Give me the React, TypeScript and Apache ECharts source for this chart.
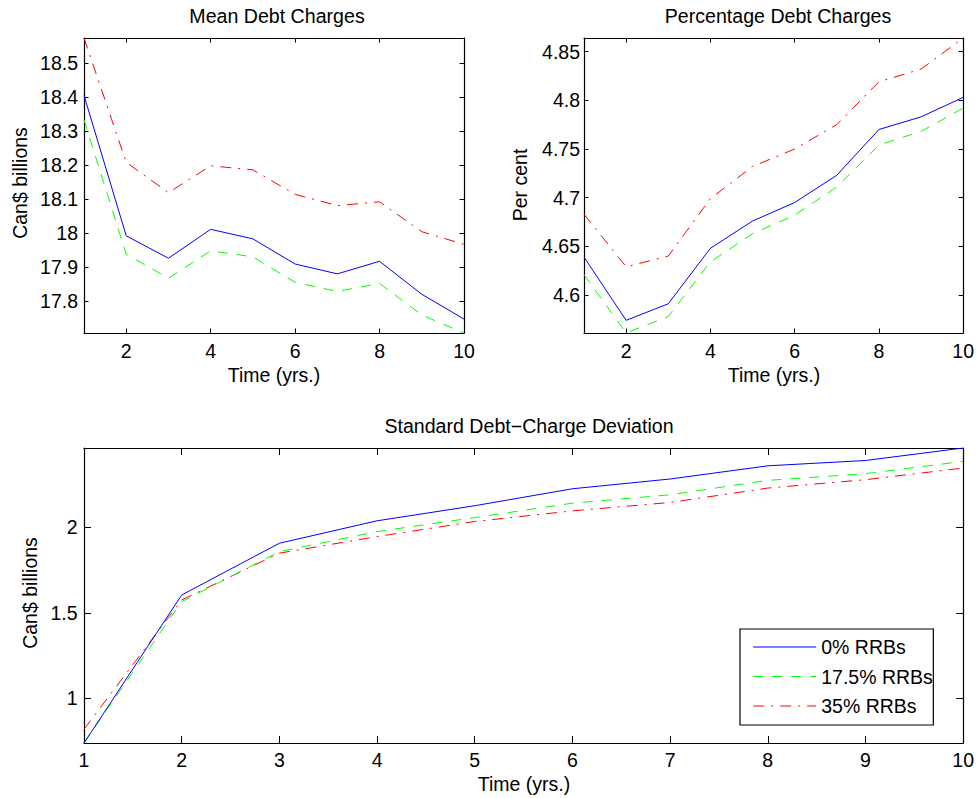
import React, { useEffect, useRef } from "react";
import * as echarts from "echarts";

const years = [1, 2, 3, 4, 5, 6, 7, 8, 9, 10];

const seriesNames = ["0% RRBs", "17.5% RRBs", "35% RRBs"];

const meanBlue = [18.405, 17.992, 17.926, 18.011, 17.983, 17.909, 17.88, 17.917, 17.82, 17.747];
const meanGreen = [18.333, 17.938, 17.867, 17.948, 17.93, 17.855, 17.828, 17.852, 17.759, 17.706];
const meanRed = [18.574, 18.208, 18.119, 18.198, 18.186, 18.114, 18.081, 18.092, 18.004, 17.967];

const pctBlue = [4.639, 4.574, 4.591, 4.648, 4.676, 4.695, 4.723, 4.77, 4.783, 4.803];
const pctGreen = [4.621, 4.561, 4.578, 4.634, 4.663, 4.682, 4.711, 4.754, 4.768, 4.792];
const pctRed = [4.683, 4.629, 4.64, 4.699, 4.732, 4.75, 4.775, 4.819, 4.832, 4.864];

const stdBlue = [0.74, 1.604, 1.906, 2.037, 2.125, 2.224, 2.281, 2.358, 2.389, 2.462];
const stdGreen = [0.741, 1.565, 1.857, 1.974, 2.056, 2.14, 2.189, 2.273, 2.312, 2.384];
const stdRed = [0.82, 1.575, 1.848, 1.945, 2.033, 2.095, 2.144, 2.228, 2.277, 2.345];

const xTicksTop = [2, 4, 6, 8, 10];
const xTicksBottom = [1, 2, 3, 4, 5, 6, 7, 8, 9, 10];
const yTicksMean = [17.8, 17.9, 18, 18.1, 18.2, 18.3, 18.4, 18.5];
const yTicksPct = [4.6, 4.65, 4.7, 4.75, 4.8, 4.85];
const yTicksStd = [1, 1.5, 2];

const titles = ["Mean Debt Charges", "Percentage Debt Charges", "Standard Debt\u2212Charge Deviation"];
const xAxisTitle = "Time (yrs.)";
const yAxisTitles = ["Can$ billions", "Per cent", "Can$ billions"];

const FONT = '"Liberation Sans", Arial, Helvetica, sans-serif';
const FS = 19.5;
const COLORS = ["#0000ff", "#00ff00", "#ff0000"];
const DASHES: any[] = ["solid", [10, 9], [11, 7, 2, 7]];

const fmt = (v: number) => String(parseFloat(Number(v).toFixed(3)));

function mkX(grid: number, ticks: number[], tickLen: number, margin: number, pos: string, labels: boolean) {
  return {
    type: "value",
    gridIndex: grid,
    min: 1,
    max: 10,
    position: pos,
    axisLine: { show: true, onZero: false, lineStyle: { color: "#000", width: 1.2 } },
    axisTick: { show: true, inside: true, length: tickLen, customValues: ticks, lineStyle: { color: "#000", width: 1 } },
    axisLabel: {
      show: labels,
      customValues: ticks,
      color: "#000",
      fontSize: FS,
      fontFamily: FONT,
      margin,
      formatter: (v: number) => fmt(v),
    },
    splitLine: { show: false },
  };
}

function mkY(grid: number, min: number, max: number, ticks: number[], tickLen: number, margin: number, pos: string, labels: boolean) {
  return {
    type: "value",
    gridIndex: grid,
    min,
    max,
    position: pos,
    axisLine: { show: true, onZero: false, lineStyle: { color: "#000", width: 1.2 } },
    axisTick: { show: true, inside: true, length: tickLen, customValues: ticks, lineStyle: { color: "#000", width: 1 } },
    axisLabel: {
      show: labels,
      customValues: ticks,
      color: "#000",
      fontSize: FS,
      fontFamily: FONT,
      margin,
      formatter: (v: number) => fmt(v),
    },
    splitLine: { show: false },
  };
}

function mkSeries(grid: number, arrays: number[][]) {
  return arrays.map((arr, k) => ({
    type: "line",
    name: seriesNames[k],
    xAxisIndex: grid * 2,
    yAxisIndex: grid * 2,
    data: years.map((x, i) => [x, arr[i]]),
    symbol: "none",
    showSymbol: false,
    color: COLORS[k],
    lineStyle: { color: COLORS[k], width: 1, type: DASHES[k] },
    z: 5 - k,
  }));
}

export default function App() {
  const ref = useRef<HTMLDivElement>(null);
  useEffect(() => {
    document.body.style.margin = "0";
    if (!ref.current) return;
    const chart = echarts.init(ref.current, null, { renderer: "svg" });

    const meanAll = [...meanBlue, ...meanGreen, ...meanRed];
    const pctAll = [...pctBlue, ...pctGreen, ...pctRed];
    const stdAll = [...stdBlue, ...stdGreen, ...stdRed];

    const textStyle = (text: string, size: number) => ({
      text,
      fill: "#000",
      fontSize: size,
      fontFamily: FONT,
      align: "center",
      verticalAlign: "middle",
    });

    const option: any = {
      animation: false,
      backgroundColor: "#fff",
      grid: [
        { left: 84, top: 38, width: 380, height: 295 },
        { left: 584, top: 38, width: 380, height: 295 },
        { left: 84, top: 448, width: 880, height: 295 },
      ],
      xAxis: [
        mkX(0, xTicksTop, 4.5, 8, "bottom", true),
        mkX(0, xTicksTop, 4.5, 8, "top", false),
        mkX(1, xTicksTop, 4.5, 8, "bottom", true),
        mkX(1, xTicksTop, 4.5, 8, "top", false),
        mkX(2, xTicksBottom, 7, 7, "bottom", true),
        mkX(2, xTicksBottom, 7, 7, "top", false),
      ],
      yAxis: [
        mkY(0, Math.min(...meanAll), Math.max(...meanAll), yTicksMean, 4.5, 6, "left", true),
        mkY(0, Math.min(...meanAll), Math.max(...meanAll), yTicksMean, 4.5, 6, "right", false),
        mkY(1, Math.min(...pctAll), Math.max(...pctAll), yTicksPct, 4.5, 4, "left", true),
        mkY(1, Math.min(...pctAll), Math.max(...pctAll), yTicksPct, 4.5, 4, "right", false),
        mkY(2, Math.min(...stdAll), Math.max(...stdAll), yTicksStd, 7, 6.5, "left", true),
        mkY(2, Math.min(...stdAll), Math.max(...stdAll), yTicksStd, 7, 6.5, "right", false),
      ],
      legend: {
        show: true,
        data: seriesNames,
        orient: "vertical",
        left: 740,
        top: 629,
        padding: [8, 0.5, 9, 12.7],
        itemWidth: 63,
        itemHeight: 20,
        itemGap: 9.5,
        backgroundColor: "#fff",
        borderColor: "#000",
        borderWidth: 1.2,
        borderRadius: 0,
        selectedMode: false,
        itemStyle: { opacity: 0, borderWidth: 0 },
        lineStyle: { opacity: 1, width: 1 },
        textStyle: { color: "#000", fontSize: FS, fontFamily: FONT, lineHeight: 20 },
        z: 10,
      },
      graphic: [
        { type: "text", x: 277, y: 16, style: textStyle(titles[0], 19.6) },
        { type: "text", x: 778, y: 16, style: textStyle(titles[1], 19.6) },
        { type: "text", x: 529, y: 426, style: textStyle(titles[2], 19.6) },
        { type: "text", x: 274, y: 375, style: textStyle(xAxisTitle, FS) },
        { type: "text", x: 774, y: 375, style: textStyle(xAxisTitle, FS) },
        { type: "text", x: 524, y: 784, style: textStyle(xAxisTitle, FS) },
        { type: "text", x: 20, y: 183, rotation: Math.PI / 2, style: textStyle(yAxisTitles[0], FS) },
        { type: "text", x: 520, y: 185, rotation: Math.PI / 2, style: textStyle(yAxisTitles[1], FS) },
        { type: "text", x: 30, y: 593, rotation: Math.PI / 2, style: textStyle(yAxisTitles[2], FS) },
      ],
      series: [
        ...mkSeries(0, [meanBlue, meanGreen, meanRed]),
        ...mkSeries(1, [pctBlue, pctGreen, pctRed]),
        ...mkSeries(2, [stdBlue, stdGreen, stdRed]),
      ],
    };
    chart.setOption(option);
    return () => chart.dispose();
  }, []);
  return <div ref={ref} style={{ width: 977, height: 798 }} />;
}
